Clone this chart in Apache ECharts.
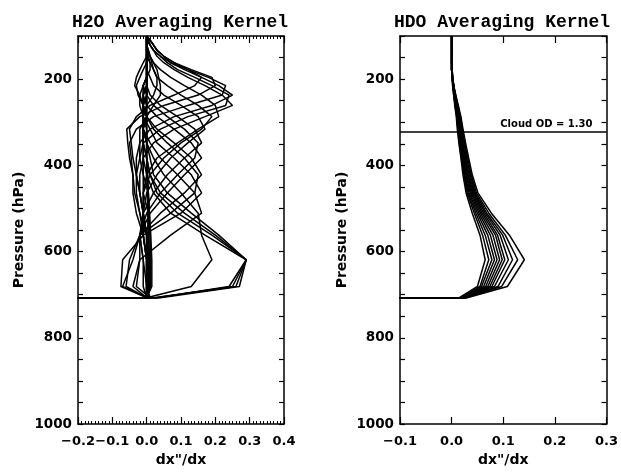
<!DOCTYPE html>
<html>
<head>
<meta charset="utf-8">
<script src="https://cdn.jsdelivr.net/npm/echarts@6/dist/echarts.min.js"></script>
<style>html,body{margin:0;padding:0;background:#fff;}#chart{width:621px;height:472px;}</style>
</head>
<body>
<div id="chart"></div>
<script>
// Pressure levels (hPa), surface first
const pressure = [707, 681, 619, 562, 511, 464, 422, 383, 348, 316, 287, 261, 237, 215, 196, 178, 162, 147, 133, 121, 110, 100];
const surfacePressure = 707;
const fillValue = -999;
const cloudPressure = 323;
const cloudOD = 1.30;

// H2O averaging kernel rows
const h2oRow00 = [0.03, 0.25, 0.29, 0.17, 0.07, 0.02, 0.00, -0.01, -0.01, -0.01, 0, 0, 0, 0, 0, 0, 0, 0, 0, 0, 0, 0];
const h2oRow01 = [0.02, 0.26, 0.29, 0.19, 0.09, 0.03, 0.01, 0.00, -0.01, -0.01, 0, 0, 0, 0, 0, 0, 0, 0, 0, 0, 0, 0];
const h2oRow02 = [0.04, 0.27, 0.29, 0.20, 0.11, 0.04, 0.01, 0.00, -0.01, -0.01, -0.01, 0, 0, 0, 0, 0, 0, 0, 0, 0, 0, 0];
const h2oRow03 = [0.03, 0.24, 0.29, 0.21, 0.13, 0.06, 0.02, 0.01, 0.00, -0.01, -0.01, -0.01, 0, 0, 0, 0, 0, 0, 0, 0, 0, 0];
const h2oRow04 = [0.00, 0.13, 0.19, 0.16, 0.15, 0.10, 0.05, 0.02, 0.00, -0.01, -0.01, -0.01, 0, 0, 0, 0, 0, 0, 0, 0, 0, 0];
const h2oRow05 = [0.00, -0.04, -0.02, 0.07, 0.16, 0.14, 0.09, 0.04, 0.01, -0.01, -0.01, -0.01, -0.01, 0, 0, 0, 0, 0, 0, 0, 0, 0];
const h2oRow06 = [0.00, -0.075, -0.07, -0.01, 0.10, 0.16, 0.13, 0.08, 0.03, 0.01, -0.01, -0.01, -0.01, 0, 0, 0, 0, 0, 0, 0, 0, 0];
const h2oRow07 = [0.00, -0.07, -0.04, -0.02, 0.04, 0.11, 0.16, 0.13, 0.08, 0.03, 0.00, -0.01, -0.01, -0.01, 0, 0, 0, 0, 0, 0, 0, 0];
const h2oRow08 = [0.01, -0.03, -0.02, -0.02, 0.01, 0.06, 0.11, 0.16, 0.13, 0.08, 0.03, 0.00, -0.01, -0.01, 0, 0, 0, 0, 0, 0, 0, 0];
const h2oRow09 = [0.01, 0.00, -0.01, -0.02, -0.01, 0.02, 0.06, 0.11, 0.16, 0.14, 0.09, 0.04, 0.01, 0, 0, 0, 0, 0, 0, 0, 0, 0];
const h2oRow10 = [0.00, 0.00, 0.00, -0.01, -0.01, 0.00, 0.03, 0.07, 0.12, 0.17, 0.15, 0.10, 0.05, 0.02, 0.01, 0, 0, 0, 0, 0, 0, 0];
const h2oRow11 = [0.00, 0.00, 0.00, 0.00, -0.01, -0.01, 0.00, 0.03, 0.09, 0.15, 0.21, 0.20, 0.16, 0.11, 0.07, 0.04, 0.02, 0.01, 0, 0, 0, 0];
const h2oRow12 = [0.00, 0.00, 0.00, 0.00, -0.01, -0.02, -0.02, -0.01, 0.02, 0.08, 0.17, 0.25, 0.22, 0.17, 0.12, 0.08, 0.05, 0.03, 0.02, 0.01, 0, 0];
const h2oRow13 = [0.00, 0.00, 0.00, -0.01, -0.02, -0.03, -0.03, -0.03, -0.02, 0.01, 0.08, 0.19, 0.25, 0.21, 0.16, 0.11, 0.07, 0.05, 0.03, 0.02, 0.01, 0];
const h2oRow14 = [0.00, 0.00, 0.00, -0.01, -0.03, -0.04, -0.04, -0.045, -0.05, -0.03, 0.02, 0.12, 0.22, 0.23, 0.18, 0.12, 0.08, 0.05, 0.03, 0.02, 0.01, 0];
const h2oRow15 = [0.00, 0.00, 0.00, 0.00, -0.02, -0.035, -0.04, -0.05, -0.055, -0.058, -0.02, 0.05, 0.15, 0.20, 0.19, 0.13, 0.08, 0.05, 0.03, 0.02, 0.01, 0];
const h2oRow16 = [0.00, 0.00, 0.00, 0.00, -0.01, -0.02, -0.03, -0.04, -0.045, -0.05, -0.03, 0.01, 0.08, 0.14, 0.16, 0.12, 0.07, 0.04, 0.02, 0.01, 0.005, 0];
const h2oRow17 = [0.00, 0.01, 0.012, 0.01, 0.005, -0.01, -0.01, -0.02, -0.02, -0.02, 0.00, 0.02, 0.04, 0.04, 0.035, 0.03, 0.02, 0.01, 0.005, 0, 0, 0];
const h2oRow18 = [0.00, 0.015, 0.015, 0.012, 0.008, 0.005, -0.01, -0.01, -0.01, -0.01, -0.01, 0.00, 0.02, 0.03, 0.03, 0.02, 0.015, 0.01, 0.005, 0, 0, 0];
const h2oRow19 = [0.00, 0.012, 0.01, 0.01, 0.008, 0.005, 0.003, 0, 0, 0, -0.01, -0.02, -0.02, -0.01, 0.00, 0.01, 0.01, 0.005, 0, 0, 0, 0];
const h2oRow20 = [0.00, 0.008, 0.008, 0.006, 0.005, 0.004, 0.002, 0, 0, 0, 0, -0.01, -0.025, -0.03, -0.02, -0.01, 0, 0, 0, 0, 0, 0];
const h2oRow21 = [0.00, 0.005, 0.005, 0.004, 0.003, 0.002, 0, 0, 0, 0, 0, -0.01, -0.02, -0.035, -0.03, -0.02, -0.01, 0, 0, 0, 0, 0];
const h2oRow22 = [0.00, -0.06, -0.05, -0.02, 0.07, 0.14, 0.15, 0.11, 0.06, 0.02, 0.00, -0.01, -0.01, 0, 0, 0, 0, 0, 0, 0, 0, 0];
const h2oRow23 = [0.00, -0.01, -0.01, -0.02, 0.00, 0.04, 0.09, 0.14, 0.15, 0.11, 0.06, 0.02, 0.00, -0.01, 0, 0, 0, 0, 0, 0, 0, 0];
const h2oRow24 = [0, 0, 0, -0.01, -0.01, -0.01, 0.01, 0.05, 0.10, 0.16, 0.19, 0.15, 0.10, 0.06, 0.03, 0.02, 0.01, 0, 0, 0, 0, 0];
const h2oRow25 = [0, 0, 0, 0, -0.01, -0.02, -0.03, -0.02, -0.01, 0.04, 0.12, 0.23, 0.24, 0.19, 0.14, 0.09, 0.06, 0.04, 0.02, 0.01, 0.005, 0];

// HDO averaging kernel rows
const hdoRow01 = [0.015, 0.050, 0.065, 0.055, 0.040, 0.028, 0.022, 0.018, 0.014, 0.011, 0.009, 0.006, 0.004, 0.002, 0.001, 0, 0, 0, 0, 0, 0, 0];
const hdoRow02 = [0.017, 0.055, 0.072, 0.060, 0.044, 0.030, 0.024, 0.019, 0.015, 0.012, 0.010, 0.007, 0.004, 0.002, 0.001, 0, 0, 0, 0, 0, 0, 0];
const hdoRow03 = [0.018, 0.058, 0.078, 0.065, 0.047, 0.032, 0.025, 0.020, 0.016, 0.013, 0.010, 0.007, 0.005, 0.003, 0.001, 0, 0, 0, 0, 0, 0, 0];
const hdoRow04 = [0.019, 0.062, 0.083, 0.070, 0.050, 0.034, 0.026, 0.021, 0.017, 0.014, 0.011, 0.008, 0.005, 0.003, 0.001, 0, 0, 0, 0, 0, 0, 0];
const hdoRow05 = [0.020, 0.066, 0.088, 0.075, 0.053, 0.036, 0.028, 0.022, 0.018, 0.015, 0.012, 0.008, 0.005, 0.003, 0.001, 0, 0, 0, 0, 0, 0, 0];
const hdoRow06 = [0.021, 0.070, 0.093, 0.080, 0.056, 0.038, 0.029, 0.023, 0.019, 0.016, 0.012, 0.009, 0.006, 0.003, 0.001, 0, 0, 0, 0, 0, 0, 0];
const hdoRow07 = [0.022, 0.074, 0.098, 0.085, 0.059, 0.040, 0.031, 0.025, 0.020, 0.017, 0.013, 0.009, 0.006, 0.003, 0.001, 0, 0, 0, 0, 0, 0, 0];
const hdoRow08 = [0.024, 0.078, 0.103, 0.089, 0.062, 0.042, 0.032, 0.026, 0.021, 0.018, 0.014, 0.010, 0.006, 0.004, 0.002, 0, 0, 0, 0, 0, 0, 0];
const hdoRow09 = [0.025, 0.083, 0.110, 0.094, 0.065, 0.044, 0.034, 0.027, 0.022, 0.019, 0.015, 0.010, 0.007, 0.004, 0.002, 0, 0, 0, 0, 0, 0, 0];
const hdoRow10 = [0.027, 0.090, 0.118, 0.099, 0.068, 0.046, 0.036, 0.029, 0.024, 0.020, 0.016, 0.011, 0.007, 0.004, 0.002, 0.001, 0, 0, 0, 0, 0, 0];
const hdoRow11 = [0.028, 0.097, 0.128, 0.104, 0.072, 0.048, 0.038, 0.031, 0.025, 0.021, 0.017, 0.012, 0.008, 0.004, 0.002, 0.001, 0, 0, 0, 0, 0, 0];
const hdoRow12 = [0.030, 0.108, 0.141, 0.112, 0.077, 0.051, 0.040, 0.033, 0.027, 0.022, 0.018, 0.013, 0.008, 0.004, 0.002, 0.001, 0, 0, 0, 0, 0, 0];

const h2oRows = [h2oRow00, h2oRow01, h2oRow02, h2oRow03, h2oRow04, h2oRow05, h2oRow06, h2oRow07, h2oRow08, h2oRow09, h2oRow10,
  h2oRow11, h2oRow12, h2oRow13, h2oRow14, h2oRow15, h2oRow16, h2oRow17, h2oRow18, h2oRow19, h2oRow20, h2oRow21,
  h2oRow22, h2oRow23, h2oRow24, h2oRow25];
const hdoRows = [hdoRow01, hdoRow02, hdoRow03, hdoRow04, hdoRow05, hdoRow06, hdoRow07, hdoRow08, hdoRow09, hdoRow10, hdoRow11, hdoRow12];

const h2oXTicks = {min: -0.2, max: 0.4, interval: 0.1};
const hdoXTicks = {min: -0.1, max: 0.3, interval: 0.1};
const pTicks = {min: 100, max: 1000, interval: 50, labelStep: 200};

const XLABEL_FONT = {fontFamily: 'DejaVu Sans', fontWeight: 'bold', fontSize: 13, color: '#000'};
const YLABEL_FONT = {fontFamily: 'DejaVu Sans', fontWeight: 'bold', fontSize: 13.5, color: '#000'};
const NAME_FONT = {fontFamily: 'DejaVu Sans', fontWeight: 'bold', fontSize: 14, color: '#000'};
const AXIS_LINE = {show: true, onZero: false, lineStyle: {color: '#000', width: 1.5}};

function fmtX(v) {
  const r = Math.round(v * 10) / 10;
  return (r < 0 ? '\u2212' : '') + Math.abs(r).toFixed(1);
}

function xAxis(grid, ticks, pos, minor, labelled, name) {
  return {
    gridIndex: grid, type: 'value', position: pos,
    min: ticks.min, max: ticks.max, interval: ticks.interval,
    axisLine: AXIS_LINE,
    axisTick: {show: true, inside: true, length: 7, lineStyle: {color: '#000', width: 1.2}},
    minorTick: {show: minor, splitNumber: 10, length: 3, lineStyle: {color: '#000', width: 1}},
    splitLine: {show: false}, minorSplitLine: {show: false},
    axisLabel: Object.assign({show: labelled, margin: 11, formatter: fmtX}, XLABEL_FONT),
    name: labelled ? name : '', nameLocation: 'middle', nameGap: 25, nameTextStyle: NAME_FONT
  };
}
function yAxis(grid, pos, labelled, gap) {
  return {
    gridIndex: grid, type: 'value', position: pos, inverse: true,
    min: pTicks.min, max: pTicks.max, interval: pTicks.interval,
    axisLine: AXIS_LINE,
    axisTick: {show: true, inside: true, length: 5, lineStyle: {color: '#000', width: 1.2}},
    splitLine: {show: false},
    axisLabel: Object.assign({show: labelled, margin: 6, interval: 0,
      formatter: v => (v % pTicks.labelStep === 0 ? String(v) : '')}, YLABEL_FONT),
    name: labelled ? 'Pressure (hPa)' : '', nameLocation: 'middle', nameRotate: 90, nameGap: gap, nameTextStyle: NAME_FONT
  };
}

function rowSeries(vals, xi, yi) {
  const data = [[fillValue, surfacePressure]].concat(pressure.map((p, i) => [vals[i], p]));
  return {type: 'line', xAxisIndex: xi, yAxisIndex: yi, data: data, symbol: 'none', silent: true,
    clip: true, animation: false, lineStyle: {color: '#000', width: 1.5}};
}

const series = [];
h2oRows.forEach(r => series.push(rowSeries(r, 0, 0)));
hdoRows.forEach(r => series.push(rowSeries(r, 2, 2)));
series[h2oRows.length].markLine = {
  silent: true, symbol: 'none', animation: false,
  lineStyle: {color: '#000', width: 1.5, type: 'solid'},
  label: {show: true, position: 'insideEndTop', distance: [14, 3], formatter: 'Cloud OD = ' + cloudOD.toFixed(2),
    fontFamily: 'DejaVu Sans', fontWeight: 'bold', fontSize: 10, color: '#000'},
  data: [{yAxis: cloudPressure}]
};

const chart = echarts.init(document.getElementById('chart'), null, {renderer: 'canvas'});
chart.setOption({
  backgroundColor: '#fff',
  animation: false,
  grid: [
    {left: 78, top: 36, width: 206, height: 388},
    {left: 400, top: 36, width: 207, height: 388}
  ],
  xAxis: [
    xAxis(0, h2oXTicks, 'bottom', true, true, 'dx"/dx'),
    xAxis(0, h2oXTicks, 'top', true, false, ''),
    xAxis(1, hdoXTicks, 'bottom', false, true, 'dx"/dx'),
    xAxis(1, hdoXTicks, 'top', false, false, '')
  ],
  yAxis: [
    yAxis(0, 'left', true, 52),
    yAxis(0, 'right', false, 0),
    yAxis(1, 'left', true, 51),
    yAxis(1, 'right', false, 0)
  ],
  graphic: [
    {type: 'text', x: 180, y: 22, style: {text: 'H2O Averaging Kernel', fontFamily: 'Liberation Mono', fontWeight: 'bold', fontSize: 18, fill: '#000', align: 'center', verticalAlign: 'middle'}},
    {type: 'text', x: 502, y: 22, style: {text: 'HDO Averaging Kernel', fontFamily: 'Liberation Mono', fontWeight: 'bold', fontSize: 18, fill: '#000', align: 'center', verticalAlign: 'middle'}}
  ],
  series: series
});
</script>
</body>
</html>
